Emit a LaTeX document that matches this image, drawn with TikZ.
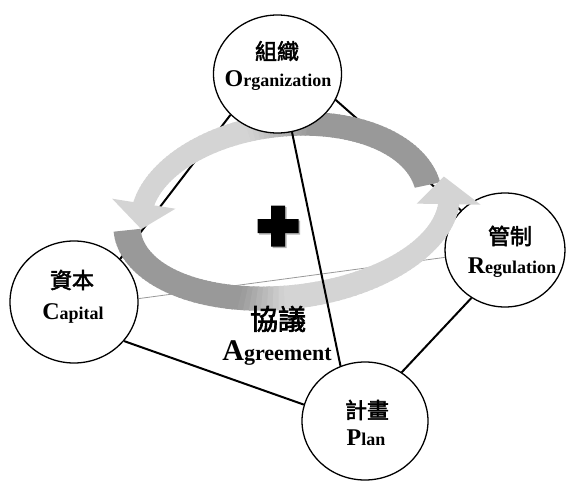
\documentclass[tikz,border=0pt]{standalone}
\usepackage{fontspec}
\setmainfont{Liberation Serif}
\newfontfamily\cjk{Noto Sans CJK TC}[AutoFakeBold=2.5]
\usetikzlibrary{shapes.geometric}
\pgfdeclarelayer{front}
\pgfsetlayers{main,front}

\newcommand\ini[2][24]{{\fontsize{#1}{#1}\selectfont #2}}

\tikzset{
  vertex/.style={ellipse, draw=black, line width=1.3pt, fill=white, inner sep=0pt},
  edge/.style={line width=2pt, black},
  backedge/.style={line width=0.8pt, black!40},
  zh/.style={font=\cjk\bfseries\fontsize{22}{22}\selectfont, inner sep=0pt},
  en/.style={font=\bfseries\fontsize{18}{18}\selectfont, inner sep=0pt, anchor=base},
}

\begin{document}
\begin{tikzpicture}[x=1pt,y=-1pt]
\useasboundingbox[fill=white] (0,0) rectangle (567,481);

% the five corners of the frame
\begin{pgfonlayer}{front}
  \node[vertex, minimum width=128pt, minimum height=118pt] (org) at (277.5,74) {};
\end{pgfonlayer}
\node[vertex, minimum width=128pt, minimum height=122pt] (cap) at (74,302) {};
\node[vertex, minimum width=120pt, minimum height=114pt] (reg) at (505,250) {};
\node[vertex, minimum width=126pt, minimum height=118pt] (plan) at (365,421) {};

% edges lying behind the cycle arrows
\draw[backedge] (cap.3.6) -- (reg.187.9);
\draw[edge] (org.221) -- (cap.43.7);
\draw[edge] (org.336.6) -- (reg.138.4);
\draw[edge] (cap.322) -- (plan.165.5);
\draw[edge] (reg.235) -- (plan.53.9);

% upper cycle arrow: dark tail on the right, light head on the left
\begin{scope}[shift={(285,210)}, rotate=7]
  \foreach \t in {355,353,...,197} {
    \pgfmathsetmacro\tn{\t-2.6}
    \pgfmathsetmacro\w{21+5*(\t-195)/160}
    \pgfmathsetmacro\c{\t>285 ? 40 : (\t<260 ? 17 : 17+23*(\t-260)/25)}
    \pgfmathsetmacro\ao{145+\w/2}\pgfmathsetmacro\bo{85+\w/2}
    \pgfmathsetmacro\ai{145-\w/2}\pgfmathsetmacro\bi{85-\w/2}
    \fill[black!\c] ({\ao*cos(\t)},{\bo*sin(\t)}) -- ({\ao*cos(\tn)},{\bo*sin(\tn)})
      -- ({\ai*cos(\tn)},{\bi*sin(\tn)}) -- ({\ai*cos(\t)},{\bi*sin(\t)}) -- cycle;
  }
  \fill[black!17] ({177*cos(196)},{117*sin(196)}) -- ({145*cos(179)},{85*sin(179)})
    -- ({113*cos(196)},{53*sin(196)}) -- cycle;
\end{scope}

% lower cycle arrow: dark tail on the left, light head on the right
\begin{scope}[shift={(288,212)}, rotate=7]
  \foreach \t in {181,179,...,9} {
    \pgfmathsetmacro\tn{\t-2.6}
    \pgfmathsetmacro\w{21+6*(\t-8)/173}
    \pgfmathsetmacro\c{\t>112 ? 40 : (\t<96 ? 17 : 17+23*(\t-96)/16)}
    \pgfmathsetmacro\ao{162+\w/2}\pgfmathsetmacro\bo{85+\w/2}
    \pgfmathsetmacro\ai{162-\w/2}\pgfmathsetmacro\bi{85-\w/2}
    \fill[black!\c] ({\ao*cos(\t)},{\bo*sin(\t)}) -- ({\ao*cos(\tn)},{\bo*sin(\tn)})
      -- ({\ai*cos(\tn)},{\bi*sin(\tn)}) -- ({\ai*cos(\t)},{\bi*sin(\t)}) -- cycle;
  }
  \fill[black!17] ({194*cos(8)},{117*sin(8)}) -- ({162*cos(-11)},{85*sin(-11)})
    -- ({130*cos(8)},{53*sin(8)}) -- cycle;
\end{scope}

% front edge, over the arrows
\draw[edge] (org.284) -- (plan.114.8);

% plus sign with a soft shadow
\begin{scope}[shift={(278,226)}]
  \fill[black!30] (-5.5,-19) -- (8.5,-19) -- (8.5,-5.5) -- (22,-5.5) -- (22,8.5) -- (8.5,8.5)
    -- (8.5,22) -- (-5.5,22) -- (-5.5,8.5) -- (-19,8.5) -- (-19,-5.5) -- (-5.5,-5.5) -- cycle;
  \fill[black] (-7,-20.5) -- (7,-20.5) -- (7,-7) -- (20.5,-7) -- (20.5,7) -- (7,7)
    -- (7,20.5) -- (-7,20.5) -- (-7,7) -- (-20.5,7) -- (-20.5,-7) -- (-7,-7) -- cycle;
\end{scope}

% labels
\begin{pgfonlayer}{front}
  \node[zh] (orgzh) at (277,51) {組織};
  \node[en] (orgen) at (278,87) {\ini{O}rganization};
  \node[zh] (capzh) at (72,280) {資本};
  \node[en] (capen) at (73,319) {\ini{C}apital};
  \node[zh] (regzh) at (510,236) {管制};
  \node[en] (regen) at (512,273) {\ini{R}egulation};
  \node[zh] (planzh) at (367,410) {計畫};
  \node[en] (planen) at (366,445) {\ini{P}lan};
  \node[zh, font=\cjk\bfseries\fontsize{28}{28}\selectfont] (agrzh) at (278,319) {協議};
  \node[en, font=\bfseries\fontsize{22}{22}\selectfont] (agren) at (277,360) {\ini[30]{A}greement};
\end{pgfonlayer}
\end{tikzpicture}
\end{document}
